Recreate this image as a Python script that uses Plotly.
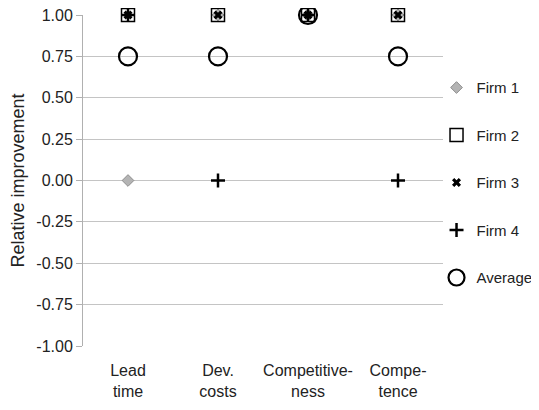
import plotly.graph_objects as go

categories = ["Lead<br>time", "Dev.<br>costs", "Competitive-<br>ness", "Compe-<br>tence"]
firm1 = [0, 1, 1, 1]
firm2 = [1, 1, 1, 1]
firm3 = [1, 1, 1, 1]
firm4 = [1, 0, 1, 0]
average = [0.75, 0.75, 1, 0.75]
y_ticks = [1.0, 0.75, 0.5, 0.25, 0.0, -0.25, -0.5, -0.75, -1.0]

FONT = "Liberation Sans, Arial, sans-serif"

fig = go.Figure()
series = [
    ("Firm 1", firm1, dict(symbol="diamond", size=9, color="#b4b4b4", line=dict(color="#8c8c8c", width=1))),
    ("Firm 2", firm2, dict(symbol="square-open", size=13, color="#000000", line=dict(color="#000000", width=1.5))),
    ("Firm 3", firm3, dict(symbol="x", size=8, color="#000000", line=dict(width=0))),
    ("Firm 4", firm4, dict(symbol="cross-thin", size=10, color="#000000", line=dict(color="#000000", width=2.5))),
    ("Average", average, dict(symbol="circle-open", size=18, color="#000000", line=dict(color="#000000", width=2.2))),
]
for i, (name, vals, mk) in enumerate(series):
    fig.add_trace(go.Scatter(
        x=categories, y=vals, name=name, mode="markers", marker=mk,
        cliponaxis=False, legendgroup=f"g{i}",
    ))

fig.update_layout(
    width=539, height=410,
    margin=dict(l=75, r=104, t=7, b=72),
    plot_bgcolor="white", paper_bgcolor="white",
    font=dict(family=FONT, size=16, color="#222222"),
    showlegend=True,
    legend=dict(
        x=0.982, xanchor="left", y=0.83, yanchor="top",
        bgcolor="rgba(0,0,0,0)", tracegroupgap=25,
        font=dict(family=FONT, size=15, color="#222222"),
        itemwidth=30,
    ),
    xaxis=dict(
        type="category", showgrid=False, showline=False, ticks="",
        ticklabelstandoff=13, tickfont=dict(size=16),
        range=[-0.5, 3.5], zeroline=False, automargin=False,
    ),
    yaxis=dict(
        range=[-1.0, 1.0], tickvals=y_ticks, ticktext=[f"{v:.2f}" for v in y_ticks],
        showgrid=True, gridcolor="#c4c4c4", gridwidth=1,
        showline=True, linecolor="#b0b0b0", linewidth=1,
        ticks="outside", ticklen=6, tickcolor="#b0b0b0",
        zeroline=False, tickfont=dict(size=16), automargin=False,
        ticklabeloverflow="allow",
        title=dict(text="Relative improvement", font=dict(size=18), standoff=12),
    ),
)

fig.write_html("out.html")
